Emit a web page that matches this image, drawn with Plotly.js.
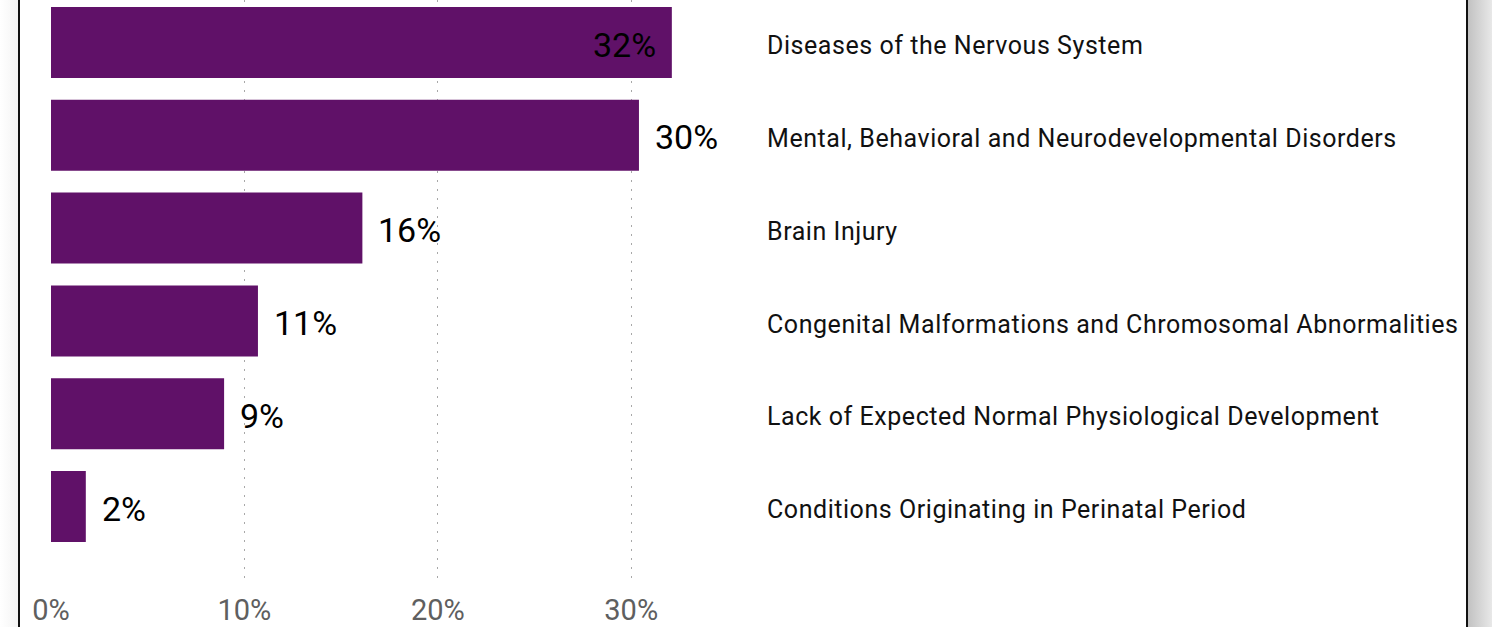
<!DOCTYPE html>
<html>
<head>
<meta charset="utf-8">
<script src="https://cdn.plot.ly/plotly-3.0.1.min.js"></script>
<style>
  html, body { margin: 0; padding: 0; width: 1492px; height: 627px; overflow: hidden; background: #ffffff; }
  #leftshade { position: absolute; left: 0; top: 0; width: 18px; height: 627px; background: linear-gradient(to right, #ffffff, #f4f4f4); }
  #card { position: absolute; left: 18px; top: -4px; width: 1446px; height: 640px; border-left: 2px solid #111; border-right: 2px solid #111; background: #fff; }
  #rightshade { position: absolute; left: 1468px; top: 0; width: 24px; height: 627px; background: linear-gradient(to right, #c2c2c2, #e8e8e8); }
  #chart { position: absolute; left: 0; top: 0; width: 1492px; height: 627px; }
  #chart .ytick text { letter-spacing: 0.55px; }
</style>
</head>
<body>
<div id="leftshade"></div>
<div id="card"></div>
<div id="rightshade"></div>
<div id="chart"></div>
<script>
// Data
const categories = [
  "Diseases of the Nervous System",
  "Mental, Behavioral and Neurodevelopmental Disorders",
  "Brain Injury",
  "Congenital Malformations and Chromosomal Abnormalities",
  "Lack of Expected Normal Physiological Development",
  "Conditions Originating in Perinatal Period"
];
const values = [32.1, 30.4, 16.1, 10.7, 8.95, 1.8];
const valueLabels = ["32%", "30%", "16%", "11%", "9%", "2%"];
const tickValues = [0, 10, 20, 30];
const tickLabels = ["0%", "10%", "20%", "30%"];

const barColor = "#601168";
const insideThreshold = 31;

const trace = {
  type: "bar",
  orientation: "h",
  x: values.map(v => v / 100),
  y: categories,
  marker: { color: barColor },
  width: 0.765,
  hoverinfo: "none"
};

const annotations = values.map((v, i) => {
  const inside = v > insideThreshold;
  return {
    x: v / 100,
    y: categories[i],
    xref: "x",
    yref: "y",
    text: valueLabels[i],
    showarrow: false,
    xanchor: inside ? "right" : "left",
    xshift: inside ? -14 : 14,
    yshift: -2,
    yanchor: "middle",
    font: { family: "Roboto, 'DejaVu Sans', sans-serif", size: 34, color: "#000000" }
  };
});

const layout = {
  width: 1492,
  height: 627,
  margin: { l: 51, r: 737, t: 0, b: 44, pad: 0 },
  paper_bgcolor: "rgba(0,0,0,0)",
  plot_bgcolor: "rgba(0,0,0,0)",
  showlegend: false,
  bargap: 0.235,
  xaxis: {
    range: [0, 0.364],
    tickvals: tickValues.map(v => v / 100),
    ticktext: tickLabels,
    showgrid: true,
    gridcolor: "#a8a8a8",
    griddash: "2px,7px",
    gridwidth: 1,
    zeroline: false,
    showline: false,
    ticks: "",
    ticklabelstandoff: 7,
    tickfont: { family: "Roboto, 'DejaVu Sans', sans-serif", size: 29, color: "#5f5f5f" },
    fixedrange: true
  },
  yaxis: {
    type: "category",
    categoryorder: "array",
    categoryarray: categories,
    range: [5.824, -0.458],
    side: "right",
    showgrid: false,
    zeroline: false,
    showline: false,
    ticks: "",
    ticklabelstandoff: 11,
    ticklabelshift: -3,
    tickfont: { family: "Roboto, 'DejaVu Sans', sans-serif", size: 25, color: "#111111" },
    fixedrange: true
  },
  annotations: annotations
};

Plotly.newPlot("chart", [trace], layout, { displayModeBar: false, staticPlot: true });
</script>
</body>
</html>
